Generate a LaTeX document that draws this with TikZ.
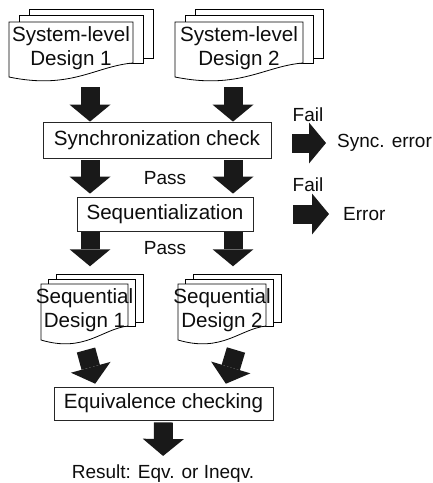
\documentclass[tikz,border=0pt]{standalone}
\usepackage{fontspec}
\setmainfont{Liberation Sans}
\usetikzlibrary{arrows.meta,positioning}

\newcommand{\boxfont}{\fontsize{20.6}{24}\selectfont}
\newcommand{\lblfont}{\fontsize{19}{22}\selectfont}

% stack of design pages: name, left, top, width, height, step, text
\newcommand{\docpile}[7]{%
  \draw[page] ({#2+2*#6},{#3-1.3*#6}) rectangle ({#2+#4+2*#6},{#3+#5-14-0.5*#6});
  \draw[page] ({#2+#6},{#3-0.65*#6}) rectangle ({#2+#4+#6},{#3+#5-14});
  \draw[page] (#2,#3) -- ({#2+#4},#3) -- ({#2+#4},{#3+#5-14})
    .. controls ({#2+0.7*#4},{#3+#5-11}) and ({#2+0.5*#4},{#3+#5+13}) .. (#2,{#3+#5}) -- cycle;
  \node[doctext] (#1) at ({#2+0.5*#4},{#3+0.47*#5}) {#7};
  \coordinate (#1-b) at ({#2+0.5*#4},{#3+#5+10});
  \coordinate (#1-t) at ({#2+0.5*#4},{#3-1.3*#6});
}

\begin{document}
\begin{tikzpicture}[
    x=1pt, y=-1pt,
    box/.style={rectangle, draw=black!85, line width=0.8pt, inner sep=0pt, font=\boxfont, text=black!95},
    doctext/.style={align=center, inner sep=0pt, font=\boxfont, text=black!95},
    page/.style={draw=black, line width=0.8pt, fill=white},
    lbl/.style={font=\lblfont, text=black!95, inner sep=1pt},
    blk/.style={line width=19pt, draw=black!90, -{Triangle[length=17pt, width=41pt, line width=0pt]}}
]
\useasboundingbox (0,0) rectangle (433,483);

\docpile{d1}{9}{22}{124}{55}{10}{System-level\\Design 1}
\docpile{d2}{175}{22}{128}{55}{10}{System-level\\Design 2}

\coordinate (colL) at (90,0);
\coordinate (colR) at (233,0);

\node[box, minimum width=228pt, minimum height=36pt] (sync) at (157,140) {Synchronization check};
\node[box, minimum width=176pt, minimum height=34pt] (seq) at (165,214) {Sequentialization};

\docpile{sd1}{41}{284}{87}{56}{7.5}{Sequential\\Design 1}
\docpile{sd2}{178}{284}{88}{56}{7.5}{Sequential\\Design 2}

\node[box, minimum width=219pt, minimum height=33pt] (eqv) at (163.5,403.5) {Equivalence checking};
\node[lbl] (res) at (163,474) {Result: Eqv. or Ineqv.};

\node[lbl, anchor=west] (syncerr) at (336,143) {Sync. error};
\node[lbl, anchor=west] (err) at (342,214) {Error};
\node[lbl] (fail1) at (308,115) {Fail};
\node[lbl] (fail2) at (308,185) {Fail};
\node[lbl] (pass1) at (165,178) {Pass};
\node[lbl] (pass2) at (165,248) {Pass};

% block arrows
\draw[blk] (d1-b -| colL) -- (sync.north -| colL);
\draw[blk] (d2-b -| colR) -- (sync.north -| colR);
\draw[blk, shorten <=2pt, shorten >=3pt] (sync.south -| colL) -- (seq.north -| colL);
\draw[blk, shorten <=2pt, shorten >=3pt] (sync.south -| colR) -- (seq.north -| colR);
\draw[blk, shorten <=1pt, shorten >=8pt] (seq.south -| colL) -- (sd1-t -| colL);
\draw[blk, shorten <=1pt, shorten >=8pt] (seq.south -| colR) -- (sd2-t -| colR);
\draw[blk, shorten >=3pt] ([xshift=1.5pt]sd1-b) -- ([xshift=-67.5pt]eqv.north);
\draw[blk, shorten >=3pt] ([xshift=14pt]sd2-b) -- ([xshift=61.5pt]eqv.north);
\draw[blk, shorten <=2pt, shorten >=8pt] (eqv.south) -- (res.north);
\draw[blk, shorten <=21pt, shorten >=10pt] (sync.east |- syncerr.west) -- (syncerr.west);
\draw[blk, shorten <=40pt, shorten >=13pt] (seq.east |- err.west) -- (err.west);

\end{tikzpicture}
\end{document}
